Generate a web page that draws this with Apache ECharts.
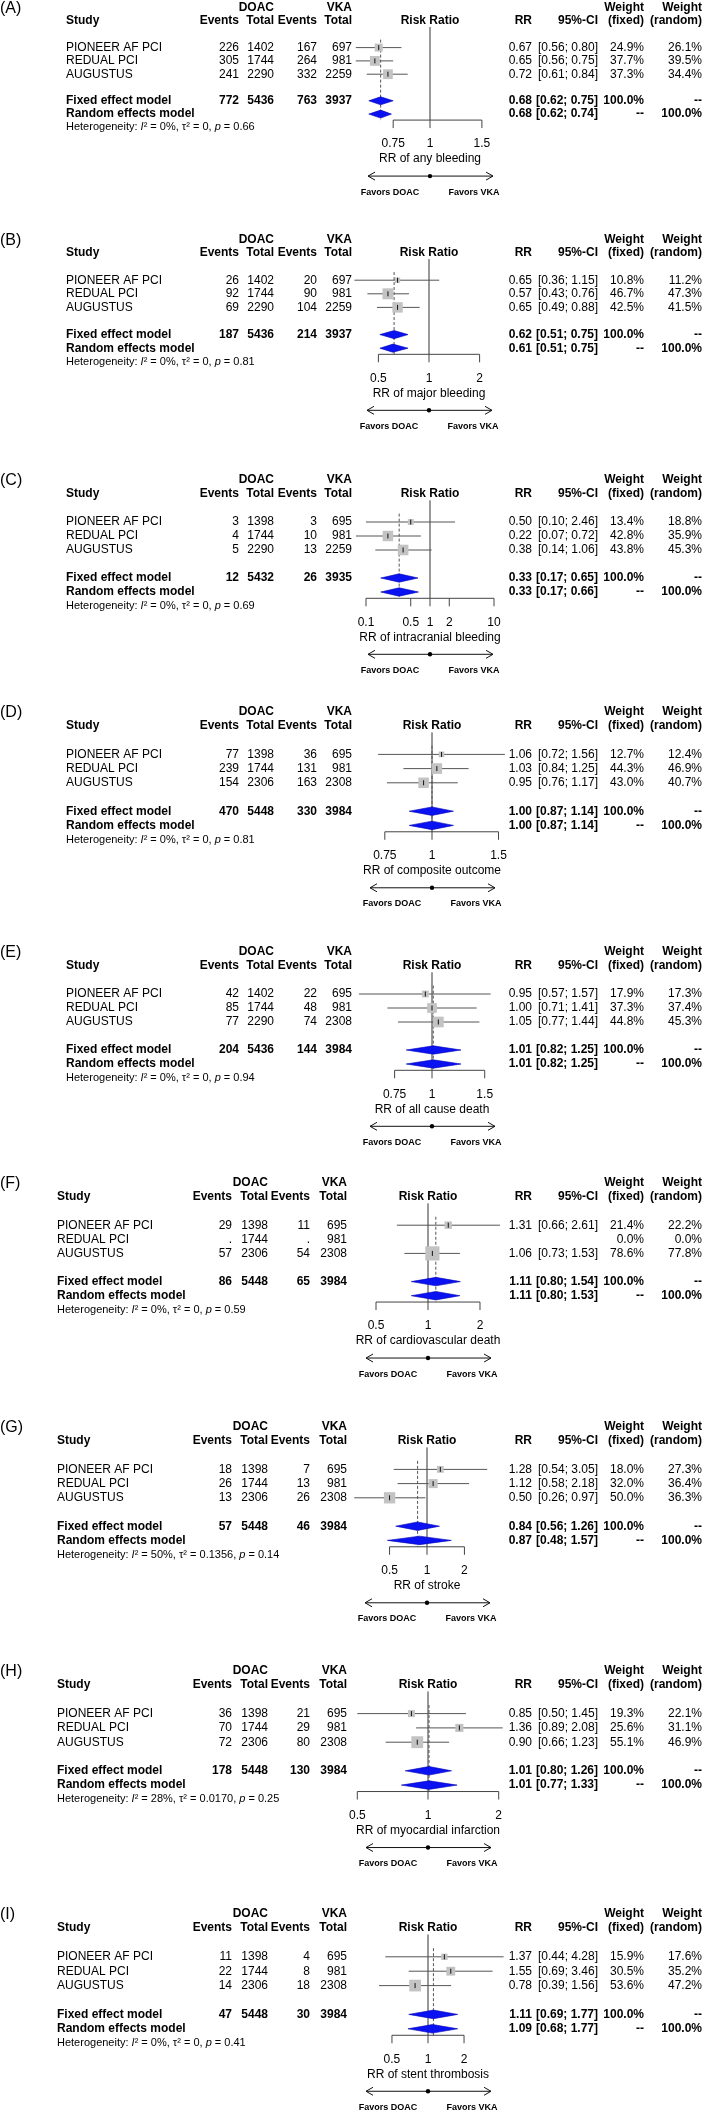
<!DOCTYPE html>
<html><head><meta charset="utf-8">
<script src="https://cdn.jsdelivr.net/npm/echarts@6/dist/echarts.min.js"></script>
<style>html,body{margin:0;padding:0;background:#fff}#c{width:709px;height:2112px}</style>
</head><body><div id="c"></div>
<script>
// ================= DATA =================
const panelLabels = ['(A)','(B)','(C)','(D)','(E)','(F)','(G)','(H)','(I)'];
const outcomeTitles = ['RR of any bleeding','RR of major bleeding','RR of intracranial bleeding','RR of composite outcome','RR of all cause death','RR of cardiovascular death','RR of stroke','RR of myocardial infarction','RR of stent thrombosis'];
const studyNames = ['PIONEER AF PCI','REDUAL PCI','AUGUSTUS'];
const doacEvents = [[226,305,241],[26,92,69],[3,4,5],[77,239,154],[42,85,77],[29,null,57],[18,26,13],[36,70,72],[11,22,14]];
const doacTotal  = [[1402,1744,2290],[1402,1744,2290],[1398,1744,2290],[1398,1744,2306],[1402,1744,2290],[1398,1744,2306],[1398,1744,2306],[1398,1744,2306],[1398,1744,2306]];
const vkaEvents  = [[167,264,332],[20,90,104],[3,10,13],[36,131,163],[22,48,74],[11,null,54],[7,13,26],[21,29,80],[4,8,18]];
const vkaTotal   = [[697,981,2259],[697,981,2259],[695,981,2259],[695,981,2308],[695,981,2308],[695,981,2308],[695,981,2308],[695,981,2308],[695,981,2308]];
const studyRR = [[0.67,0.65,0.72],[0.65,0.57,0.65],[0.50,0.22,0.38],[1.06,1.03,0.95],[0.95,1.00,1.05],[1.31,null,1.06],[1.28,1.12,0.50],[0.85,1.36,0.90],[1.37,1.55,0.78]];
const studyLo = [[0.56,0.56,0.61],[0.36,0.43,0.49],[0.10,0.07,0.14],[0.72,0.84,0.76],[0.57,0.71,0.77],[0.66,null,0.73],[0.54,0.58,0.26],[0.50,0.89,0.66],[0.44,0.69,0.39]];
const studyHi = [[0.80,0.75,0.84],[1.15,0.76,0.88],[2.46,0.72,1.06],[1.56,1.25,1.17],[1.57,1.41,1.44],[2.61,null,1.53],[3.05,2.18,0.97],[1.45,2.08,1.23],[4.28,3.46,1.56]];
const weightFixed  = [[24.9,37.7,37.3],[10.8,46.7,42.5],[13.4,42.8,43.8],[12.7,44.3,43.0],[17.9,37.3,44.8],[21.4,0.0,78.6],[18.0,32.0,50.0],[19.3,25.6,55.1],[15.9,30.5,53.6]];
const weightRandom = [[26.1,39.5,34.4],[11.2,47.3,41.5],[18.8,35.9,45.3],[12.4,46.9,40.7],[17.3,37.4,45.3],[22.2,0.0,77.8],[27.3,36.4,36.3],[22.1,31.1,46.9],[17.6,35.2,47.2]];
const totalDoacEvents = [772,187,12,470,204,86,57,178,47];
const totalDoacN      = [5436,5436,5432,5448,5436,5448,5448,5448,5448];
const totalVkaEvents  = [763,214,26,330,144,65,46,130,30];
const totalVkaN       = [3937,3937,3935,3984,3984,3984,3984,3984,3984];
const fixedRR = [0.68,0.62,0.33,1.00,1.01,1.11,0.84,1.01,1.11];
const fixedLo = [0.62,0.51,0.17,0.87,0.82,0.80,0.56,0.80,0.69];
const fixedHi = [0.75,0.75,0.65,1.14,1.25,1.54,1.26,1.26,1.77];
const randomRR = [0.68,0.61,0.33,1.00,1.01,1.11,0.87,1.01,1.09];
const randomLo = [0.62,0.51,0.17,0.87,0.82,0.80,0.48,0.77,0.68];
const randomHi = [0.74,0.75,0.66,1.14,1.25,1.53,1.57,1.33,1.77];
const hetI2   = ['0%','0%','0%','0%','0%','0%','50%','28%','0%'];
const hetTau2 = ['0','0','0','0','0','0','0.1356','0.0170','0'];
const hetP    = ['0.66','0.81','0.69','0.81','0.94','0.59','0.14','0.25','0.41'];
const axisTicks = [[0.75,1,1.5],[0.5,1,2],[0.1,0.5,1,2,10],[0.75,1,1.5],[0.75,1,1.5],[0.5,1,2],[0.5,1,2],[0.5,1,2],[0.5,1,2]];
const axisTickLabels = [['0.75','1','1.5'],['0.5','1','2'],['0.1','0.5','1','2','10'],['0.75','1','1.5'],['0.75','1','1.5'],['0.5','1','2'],['0.5','1','2'],['0.5','1','2'],['0.5','1','2']];

// ================= LAYOUT =================
// base: y of the "Study" header line; h: row height; x1: pixel of RR = 1; k: pixels per ln unit
const layout = [
  {base:21,   h:13.3, x1:430, k:128,  cols:0},
  {base:253,  h:13.6, x1:429, k:73,   cols:0},
  {base:494,  h:14.0, x1:430, k:27.8, cols:0},
  {base:726,  h:14.2, x1:432, k:164,  cols:0},
  {base:966,  h:14.0, x1:432, k:130,  cols:0},
  {base:1197, h:14.1, x1:428, k:75,   cols:1},
  {base:1441, h:14.2, x1:427, k:54,   cols:1},
  {base:1685, h:14.3, x1:428, k:102,  cols:1},
  {base:1928, h:14.4, x1:428, k:52,   cols:1}
];
const colSets = [
  {study:66, dEv:239, dTot:274, vEv:317, vTot:352, rr:532, ci:598, wf:644, wr:702},
  {study:57, dEv:232, dTot:268, vEv:310, vTot:347, rr:532, ci:598, wf:644, wr:702}
];
const AXIS_ROW = 6.45;
const FAM = '"Liberation Sans", Arial, Helvetica, sans-serif';

function txt(x, y, s, o) {
  o = o || {};
  const size = o.size || 12;
  const al = o.align || 'left';
  const st = { x: x, y: y, text: s, fill: o.fill || '#000',
    font: (o.bold ? 'bold ' : '') + size + 'px ' + FAM,
    align: al, textAlign: al, verticalAlign: 'middle', textVerticalAlign: 'middle' };
  if (o.rich) st.rich = o.rich;
  return { type: 'text', silent: true, style: st };
}
function ln(x1, y1, x2, y2, o) {
  o = o || {};
  return { type: 'line', silent: true, shape: {x1:x1, y1:y1, x2:x2, y2:y2},
    style: { stroke: o.stroke || '#444', lineWidth: o.lw || 1, lineDash: o.dash || null } };
}
const f2 = v => v.toFixed(2);
const pct = v => v.toFixed(1) + '%';

const option = { animation: false, backgroundColor: '#fff', grid: [], xAxis: [], yAxis: [], series: [] };

for (let p = 0; p < 9; p++) {
  const L = layout[p], C = colSets[L.cols], ticks = axisTicks[p];
  const tmin = ticks[0], tmax = ticks[ticks.length - 1];
  option.grid.push({ left: L.x1 + L.k * Math.log(tmin), width: L.k * Math.log(tmax / tmin),
    top: L.base - L.h, height: L.h * (AXIS_ROW + 2), containLabel: false, outerBoundsMode: 'none' });
  option.xAxis.push({ gridIndex: p, type: 'log', logBase: 10, min: tmin, max: tmax, show: false });
  option.yAxis.push({ gridIndex: p, type: 'value', min: -2, max: AXIS_ROW, inverse: true, show: false });

  const common = { type: 'custom', coordinateSystem: 'cartesian2d', xAxisIndex: p, yAxisIndex: p, silent: true, clip: false };

  // ---- table text ----
  option.series.push(Object.assign({}, common, {
    z: 5,
    data: [[1, 0]],
    renderItem: function (params, api) {
      const Y = r => api.coord([1, r])[1];
      const x1 = api.coord([1, 0])[0];
      const ch = [];
      const B = { bold: true };
      ch.push(txt(0, Y(-2) + 1, panelLabels[p], { size: 16 }));
      ch.push(txt(C.study, Y(-1), 'Study', B));
      ch.push(txt(C.dTot, Y(-2), 'DOAC', { bold: true, align: 'right' }));
      ch.push(txt(C.vTot, Y(-2), 'VKA', { bold: true, align: 'right' }));
      ch.push(txt(C.dEv, Y(-1), 'Events', { bold: true, align: 'right' }));
      ch.push(txt(C.dTot, Y(-1), 'Total', { bold: true, align: 'right' }));
      ch.push(txt(C.vEv, Y(-1), 'Events', { bold: true, align: 'right' }));
      ch.push(txt(C.vTot, Y(-1), 'Total', { bold: true, align: 'right' }));
      ch.push(txt(x1, Y(-1), 'Risk Ratio', { bold: true, align: 'center' }));
      ch.push(txt(C.rr, Y(-1), 'RR', { bold: true, align: 'right' }));
      ch.push(txt(C.ci, Y(-1), '95%-CI', { bold: true, align: 'right' }));
      ch.push(txt(C.wf, Y(-2), 'Weight', { bold: true, align: 'right' }));
      ch.push(txt(C.wf, Y(-1), '(fixed)', { bold: true, align: 'right' }));
      ch.push(txt(C.wr, Y(-2), 'Weight', { bold: true, align: 'right' }));
      ch.push(txt(C.wr, Y(-1), '(random)', { bold: true, align: 'right' }));
      for (let i = 0; i < 3; i++) {
        const y = Y(i + 1);
        ch.push(txt(C.study, y, studyNames[i]));
        ch.push(txt(C.dEv, y, doacEvents[p][i] == null ? '.' : String(doacEvents[p][i]), { align: 'right' }));
        ch.push(txt(C.dTot, y, String(doacTotal[p][i]), { align: 'right' }));
        ch.push(txt(C.vEv, y, vkaEvents[p][i] == null ? '.' : String(vkaEvents[p][i]), { align: 'right' }));
        ch.push(txt(C.vTot, y, String(vkaTotal[p][i]), { align: 'right' }));
        if (studyRR[p][i] != null) {
          ch.push(txt(C.rr, y, f2(studyRR[p][i]), { align: 'right' }));
          ch.push(txt(C.ci, y, '[' + f2(studyLo[p][i]) + '; ' + f2(studyHi[p][i]) + ']', { align: 'right' }));
        }
        ch.push(txt(C.wf, y, pct(weightFixed[p][i]), { align: 'right' }));
        ch.push(txt(C.wr, y, pct(weightRandom[p][i]), { align: 'right' }));
      }
      let y = Y(5);
      ch.push(txt(C.study, y, 'Fixed effect model', B));
      ch.push(txt(C.dEv, y, String(totalDoacEvents[p]), { bold: true, align: 'right' }));
      ch.push(txt(C.dTot, y, String(totalDoacN[p]), { bold: true, align: 'right' }));
      ch.push(txt(C.vEv, y, String(totalVkaEvents[p]), { bold: true, align: 'right' }));
      ch.push(txt(C.vTot, y, String(totalVkaN[p]), { bold: true, align: 'right' }));
      ch.push(txt(C.rr, y, f2(fixedRR[p]), { bold: true, align: 'right' }));
      ch.push(txt(C.ci, y, '[' + f2(fixedLo[p]) + '; ' + f2(fixedHi[p]) + ']', { bold: true, align: 'right' }));
      ch.push(txt(C.wf, y, '100.0%', { bold: true, align: 'right' }));
      ch.push(txt(C.wr, y, '--', { bold: true, align: 'right' }));
      y = Y(6);
      ch.push(txt(C.study, y, 'Random effects model', B));
      ch.push(txt(C.rr, y, f2(randomRR[p]), { bold: true, align: 'right' }));
      ch.push(txt(C.ci, y, '[' + f2(randomLo[p]) + '; ' + f2(randomHi[p]) + ']', { bold: true, align: 'right' }));
      ch.push(txt(C.wf, y, '--', { bold: true, align: 'right' }));
      ch.push(txt(C.wr, y, '100.0%', { bold: true, align: 'right' }));
      y = Y(7);
      ch.push(txt(C.study, y, 'Heterogeneity: {it|I}\u00B2 = ' + hetI2[p] + ', \u03C4\u00B2 = ' + hetTau2[p] + ', {it|p} = ' + hetP[p],
        { size: 11, rich: { it: { fontStyle: 'italic', fontSize: 11, fontFamily: FAM, fill: '#000' } } }));
      return { type: 'group', children: ch };
    }
  }));

  // ---- guides: reference line, pooled dashed line, axis, labels, arrows ----
  option.series.push(Object.assign({}, common, {
    z: 2,
    data: [[1, 0]],
    renderItem: function (params, api) {
      const P = (x, r) => api.coord([x, r]);
      const yA = P(1, AXIS_ROW)[1];
      const x1 = P(1, 0)[0];
      const ch = [];
      ch.push(ln(x1, P(1, -0.55)[1], x1, yA, { stroke: '#333' }));
      const xf = P(fixedRR[p], 0)[0];
      ch.push(ln(xf, P(1, 0.4)[1], xf, yA, { stroke: '#555', dash: [3, 2] }));
      ch.push(ln(P(tmin, 0)[0], yA, P(tmax, 0)[0], yA, { stroke: '#444' }));
      for (let j = 0; j < ticks.length; j++) {
        const xt = P(ticks[j], 0)[0];
        ch.push(ln(xt, yA, xt, yA + 8, { stroke: '#444' }));
        ch.push(txt(xt, yA + 24, axisTickLabels[p][j], { align: 'center' }));
      }
      ch.push(txt(x1, yA + 39, outcomeTitles[p], { align: 'center' }));
      const ya = yA + 56;
      ch.push(ln(x1 - 62, ya, x1 + 63, ya, { stroke: '#111' }));
      ch.push({ type: 'polyline', silent: true, shape: { points: [[x1 - 55, ya - 4], [x1 - 62, ya], [x1 - 55, ya + 4]] }, style: { stroke: '#111', fill: null, lineWidth: 1 } });
      ch.push({ type: 'polyline', silent: true, shape: { points: [[x1 + 56, ya - 4], [x1 + 63, ya], [x1 + 56, ya + 4]] }, style: { stroke: '#111', fill: null, lineWidth: 1 } });
      ch.push({ type: 'circle', silent: true, shape: { cx: x1, cy: ya, r: 2.2 }, style: { fill: '#000' } });
      ch.push(txt(x1 - 40, yA + 72, 'Favors DOAC', { bold: true, size: 9, align: 'center' }));
      ch.push(txt(x1 + 44, yA + 72, 'Favors VKA', { bold: true, size: 9, align: 'center' }));
      return { type: 'group', children: ch };
    }
  }));

  // ---- individual studies ----
  const sdata = [];
  for (let i = 0; i < 3; i++) {
    if (studyRR[p][i] != null) sdata.push([studyRR[p][i], i + 1, studyLo[p][i], studyHi[p][i], weightFixed[p][i]]);
  }
  option.series.push(Object.assign({}, common, {
    z: 3,
    data: sdata,
    renderItem: function (params, api) {
      const r = api.value(1);
      const c = api.coord([api.value(0), r]);
      const xl = api.coord([api.value(2), r])[0];
      const xh = api.coord([api.value(3), r])[0];
      const side = 16 * Math.sqrt(api.value(4) / 100);
      return { type: 'group', children: [
        ln(xl, c[1], xh, c[1], { stroke: '#555' }),
        { type: 'rect', silent: true, shape: { x: c[0] - side / 2, y: c[1] - side / 2, width: side, height: side }, style: { fill: '#c3c3c3' } },
        ln(c[0], c[1] - 2.5, c[0], c[1] + 2.5, { stroke: '#111' })
      ] };
    }
  }));

  // ---- pooled diamonds ----
  option.series.push(Object.assign({}, common, {
    z: 4,
    data: [[fixedRR[p], 5, fixedLo[p], fixedHi[p]], [randomRR[p], 6, randomLo[p], randomHi[p]]],
    renderItem: function (params, api) {
      const r = api.value(1);
      const c = api.coord([api.value(0), r]);
      const xl = api.coord([api.value(2), r])[0];
      const xh = api.coord([api.value(3), r])[0];
      const hh = api.coord([api.value(0), r + 0.3])[1] - c[1];
      return { type: 'polygon', silent: true,
        shape: { points: [[xl, c[1]], [c[0], c[1] - hh], [xh, c[1]], [c[0], c[1] + hh]] },
        style: { fill: '#0b12f2', stroke: '#0000b0', lineWidth: 0.6 } };
    }
  }));
}

const chart = echarts.init(document.getElementById('c'), null, { renderer: 'canvas', width: 709, height: 2112 });
chart.setOption(option);
</script>
</body></html>
